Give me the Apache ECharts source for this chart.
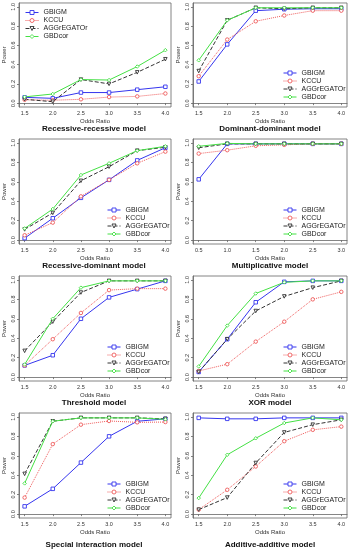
<!DOCTYPE html>
<html>
<head>
<meta charset="utf-8">
<script src="https://cdn.jsdelivr.net/npm/echarts@6/dist/echarts.min.js"></script>
<style>html,body{margin:0;padding:0;background:#fff;}#c{width:352px;height:550px;}</style>
</head>
<body>
<div id="c"></div>
<script>
const xOdds = [1.5, 2.0, 2.5, 3.0, 3.5, 4.0];
const xMult = [0.5, 1.0, 1.5, 2.0, 2.5, 3.0];
const yTicks = [0.0, 0.2, 0.4, 0.6, 0.8, 1.0];
const seriesNames = ['GBIGM', 'KCCU', 'AGGrEGATOr', 'GBDcor'];
const panelTitles = ['Recessive-recessive model', 'Dominant-dominant model', 'Recessive-dominant model', 'Multiplicative model',
  'Threshold model', 'XOR model', 'Special interaction model', 'Additive-additive model'];

// one row per panel, in panel order
const GBIGM = [
  [0.06, 0.05, 0.11, 0.11, 0.14, 0.17],
  [0.225, 0.61, 0.96, 0.975, 0.98, 0.98],
  [0.02, 0.225, 0.435, 0.62, 0.82, 0.95],
  [0.625, 0.99, 0.99, 0.99, 0.99, 0.99],
  [0.12, 0.225, 0.60, 0.82, 0.905, 0.99],
  [0.053, 0.39, 0.77, 0.98, 0.99, 0.99],
  [0.08, 0.26, 0.53, 0.80, 0.955, 0.98],
  [0.99, 0.98, 0.98, 0.99, 0.99, 0.99]
];
const KCCU = [
  [0.035, 0.03, 0.04, 0.063, 0.07, 0.10],
  [0.28, 0.66, 0.85, 0.91, 0.96, 0.96],
  [0.05, 0.18, 0.45, 0.62, 0.79, 0.91],
  [0.89, 0.925, 0.97, 0.98, 0.99, 0.99],
  [0.12, 0.39, 0.66, 0.895, 0.91, 0.91],
  [0.063, 0.133, 0.365, 0.57, 0.80, 0.877],
  [0.17, 0.72, 0.92, 0.958, 0.944, 0.947],
  [0.046, 0.25, 0.49, 0.75, 0.867, 0.90]
];
const AGGrEGATOr = [
  [0.04, 0.015, 0.245, 0.20, 0.32, 0.456],
  [0.333, 0.86, 0.99, 0.98, 0.99, 0.99],
  [0.11, 0.28, 0.61, 0.755, 0.92, 0.955],
  [0.95, 0.99, 0.99, 0.99, 0.99, 0.99],
  [0.27, 0.57, 0.87, 0.99, 0.99, 0.99],
  [0.053, 0.39, 0.68, 0.83, 0.92, 0.99],
  [0.414, 0.955, 0.99, 0.99, 0.99, 0.98],
  [0.046, 0.17, 0.526, 0.84, 0.92, 0.97]
];
const GBDcor = [
  [0.065, 0.095, 0.245, 0.24, 0.38, 0.55],
  [0.445, 0.86, 0.99, 0.99, 0.99, 0.99],
  [0.12, 0.32, 0.67, 0.79, 0.92, 0.965],
  [0.965, 0.995, 0.99, 0.99, 0.99, 0.99],
  [0.13, 0.60, 0.92, 0.99, 0.99, 0.99],
  [0.11, 0.53, 0.86, 0.975, 0.99, 0.99],
  [0.316, 0.955, 0.99, 0.99, 0.99, 0.975],
  [0.165, 0.61, 0.78, 0.937, 0.99, 0.97]
];

const chart = echarts.init(document.getElementById('c'), null, {renderer: 'canvas'});
const colLeft = [17, 193];
const rowTop = [2, 139, 276, 413];
const boxW = 154, boxH = 105;
const titleY = [129, 266, 403, 545];
const styles = [
  {color: '#3535ee', type: 'solid', symbol: 'rect', rot: 0},
  {color: '#ee5a5a', type: 'dotted', symbol: 'circle', rot: 0},
  {color: '#333333', type: 'dashed', symbol: 'triangle', rot: 180},
  {color: '#44e044', type: 'solid', symbol: 'diamond', rot: 0}
];
const allData = [GBIGM, KCCU, AGGrEGATOr, GBDcor];

const grids = [], xAxes = [], yAxes = [], series = [], legends = [], graphics = [];
for (let p = 0; p < 8; p++) {
  const col = p % 2, row = Math.floor(p / 2);
  const L = colLeft[col], T = rowTop[row];
  const xs = p === 3 ? xMult : xOdds;
  grids.push({left: L, top: T, width: boxW, height: boxH, show: true, borderColor: '#666', borderWidth: 0.8, backgroundColor: 'transparent'});
  xAxes.push({
    type: 'value', gridIndex: p, min: xs[0] - 0.1, max: xs[5] + 0.1,
    axisLine: {show: true, lineStyle: {color: '#666', width: 0.8}},
    axisTick: {show: true, length: 2, customValues: xs, lineStyle: {color: '#666', width: 0.8}},
    axisLabel: {customValues: xs, formatter: v => v.toFixed(1), fontSize: 5.5, margin: 3, color: '#333', fontFamily: 'Liberation Sans'},
    splitLine: {show: false},
    name: 'Odds Ratio', nameLocation: 'middle', nameGap: 11,
    nameTextStyle: {fontSize: 6, color: '#333', fontFamily: 'Liberation Sans'}
  });
  yAxes.push({
    type: 'value', gridIndex: p, min: -0.04, max: 1.04,
    axisLine: {show: true, lineStyle: {color: '#666', width: 0.8}},
    axisTick: {show: true, length: 2, customValues: yTicks, lineStyle: {color: '#666', width: 0.8}},
    axisLabel: {customValues: yTicks, formatter: v => v.toFixed(1), rotate: 90, fontSize: 5.5, margin: 3, color: '#333', fontFamily: 'Liberation Sans'},
    splitLine: {show: false},
    name: 'Power', nameLocation: 'middle', nameGap: 12, nameRotate: 90,
    nameTextStyle: {fontSize: 6, color: '#333', fontFamily: 'Liberation Sans'}
  });
  for (let s = 0; s < 4; s++) {
    const st = styles[s];
    series.push({
      type: 'line', name: seriesNames[s], xAxisIndex: p, yAxisIndex: p,
      data: xs.map((x, i) => [x, allData[s][p][i]]),
      symbol: st.symbol, symbolRotate: st.rot, symbolSize: 3.5, showSymbol: true,
      lineStyle: {color: st.color, width: 1, type: st.type},
      itemStyle: {color: '#ffffff', borderColor: st.color, borderWidth: 0.9},
      animation: false, silent: true
    });
  }
  const legLeft = p === 0 ? L + 8 : L + 90;
  const legTop = p === 0 ? T + 7 : T + 67.5;
  legends.push({
    data: seriesNames, orient: 'vertical', left: legLeft, top: legTop,
    itemWidth: 13, itemHeight: 5, itemGap: 1, padding: 0,
    itemStyle: {color: '#ffffff', borderColor: 'inherit', borderWidth: 0.9},
    lineStyle: {width: 1},
    textStyle: {fontSize: 7, lineHeight: 7, color: '#222', fontFamily: 'Liberation Sans'},
    selectedMode: false
  });
  graphics.push({
    type: 'text', x: L + boxW / 2, y: titleY[row],
    style: {text: panelTitles[p], textAlign: 'center', textVerticalAlign: 'middle', font: 'bold 8px "Liberation Sans"', fill: '#111'}
  });
}

chart.setOption({
  animation: false,
  grid: grids, xAxis: xAxes, yAxis: yAxes, series: series, legend: legends, graphic: graphics
});
</script>
</body>
</html>
